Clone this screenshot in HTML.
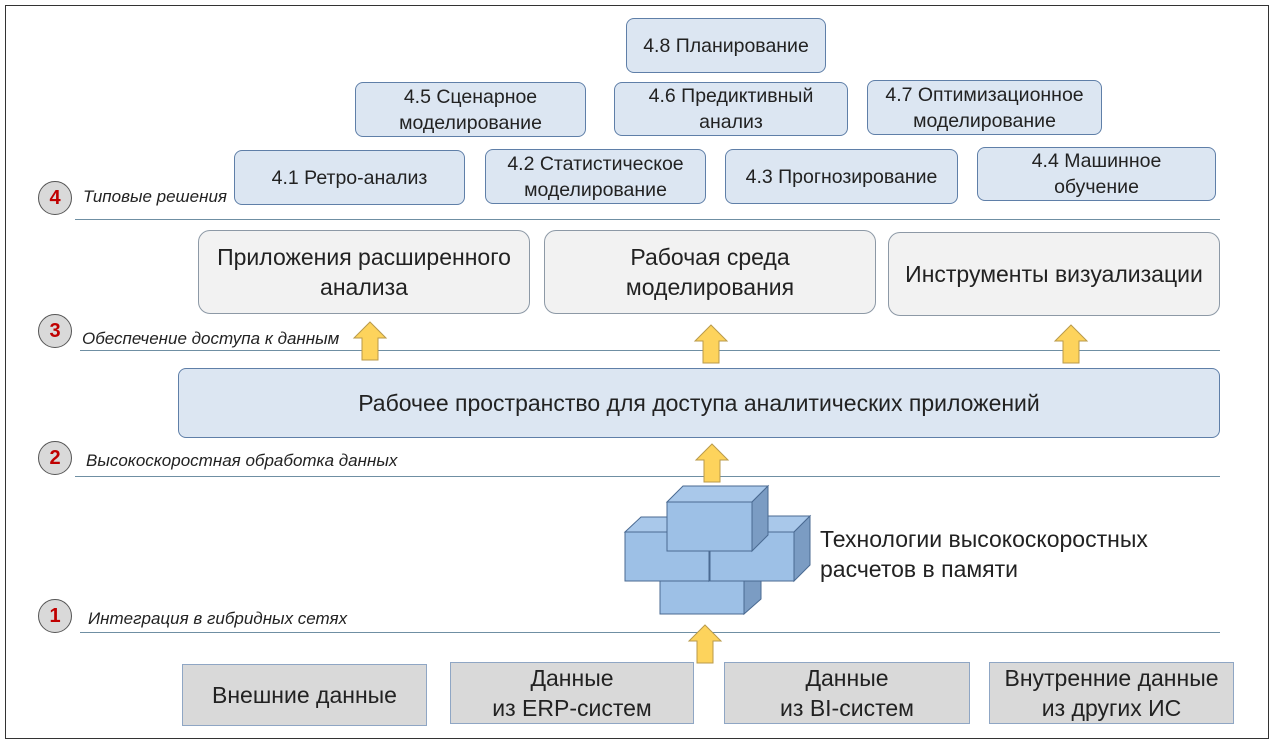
<!DOCTYPE html>
<html><head><meta charset="utf-8"><style>
body{margin:0;background:#fff;width:1274px;height:743px;overflow:hidden;font-family:"Liberation Sans",sans-serif}
.b{position:absolute;box-sizing:border-box;display:flex;align-items:center;justify-content:center;text-align:center;color:#222;white-space:nowrap}
.s{background:#dce6f2;border:1px solid #5f7fa8;border-radius:8px;font-size:19.5px;line-height:26px}
.g{background:#f2f2f2;border:1px solid #8d99a6;border-radius:12px;font-size:23px;line-height:30px}
.d{background:#d9d9d9;border:1px solid #8fa6c4;font-size:23px;line-height:30px}
.ln{position:absolute;height:1px;background:#6f8fa3}
.c{position:absolute;width:34px;height:34px;border-radius:50%;background:#d9d9d9;border:1.5px solid #555;box-sizing:border-box;color:#c00000;font-weight:bold;font-size:20px;display:flex;align-items:center;justify-content:center}
.l{position:absolute;font-style:italic;font-size:17px;color:#222;white-space:nowrap}
</style></head><body>
<div style="position:absolute;left:5px;top:5px;width:1262px;height:732px;border:1px solid #333"></div>
<div class="ln" style="left:75px;top:219px;width:1145px"></div>
<div class="ln" style="left:80px;top:350px;width:1140px"></div>
<div class="ln" style="left:75px;top:476px;width:1145px"></div>
<div class="ln" style="left:80px;top:632px;width:1140px"></div>

<div class="b s" style="left:626px;top:18px;width:200px;height:55px">4.8 Планирование</div>
<div class="b s" style="left:355px;top:82px;width:231px;height:55px">4.5 Сценарное<br>моделирование</div>
<div class="b s" style="left:614px;top:82px;width:234px;height:54px">4.6 Предиктивный<br>анализ</div>
<div class="b s" style="left:867px;top:80px;width:235px;height:55px">4.7 Оптимизационное<br>моделирование</div>
<div class="b s" style="left:234px;top:150px;width:231px;height:55px">4.1 Ретро-анализ</div>
<div class="b s" style="left:485px;top:149px;width:221px;height:55px">4.2 Статистическое<br>моделирование</div>
<div class="b s" style="left:725px;top:149px;width:233px;height:55px">4.3 Прогнозирование</div>
<div class="b s" style="left:977px;top:147px;width:239px;height:54px">4.4 Машинное<br>обучение</div>

<div class="b g" style="left:198px;top:230px;width:332px;height:84px">Приложения расширенного<br>анализа</div>
<div class="b g" style="left:544px;top:230px;width:332px;height:84px">Рабочая среда<br>моделирования</div>
<div class="b g" style="left:888px;top:232px;width:332px;height:84px">Инструменты визуализации</div>

<div class="b s" style="left:178px;top:368px;width:1042px;height:70px;font-size:23px;border-radius:8px">Рабочее пространство для доступа аналитических приложений</div>

<div class="b d" style="left:182px;top:664px;width:245px;height:62px">Внешние данные</div>
<div class="b d" style="left:450px;top:662px;width:244px;height:62px">Данные<br>из ERP-систем</div>
<div class="b d" style="left:724px;top:662px;width:246px;height:62px">Данные<br>из BI-систем</div>
<div class="b d" style="left:989px;top:662px;width:245px;height:62px">Внутренние данные<br>из других ИС</div>

<div class="c" style="left:38px;top:181px">4</div>
<div class="c" style="left:38px;top:314px">3</div>
<div class="c" style="left:38px;top:441px">2</div>
<div class="c" style="left:38px;top:599px">1</div>
<div class="l" style="left:83px;top:187px">Типовые решения</div>
<div class="l" style="left:82px;top:329px">Обеспечение доступа к данным</div>
<div class="l" style="left:86px;top:451px">Высокоскоростная обработка данных</div>
<div class="l" style="left:88px;top:609px">Интеграция в гибридных сетях</div>

<div style="position:absolute;left:820px;top:524px;font-size:23px;line-height:30px;color:#222;white-space:nowrap">Технологии высокоскоростных<br>расчетов в памяти</div>

<svg width="1274" height="743" style="position:absolute;left:0;top:0">
<defs><g id="ar"><path d="M0,0 L16,16 L8,16 L8,38 L-8,38 L-8,16 L-16,16 Z" fill="#fdd35c" stroke="#b99a4a" stroke-width="1"/></g></defs>
<use href="#ar" x="370" y="322"/>
<use href="#ar" x="711" y="325"/>
<use href="#ar" x="1071" y="325"/>
<use href="#ar" x="712" y="444"/>
<use href="#ar" x="705" y="625"/>
<g stroke="#4a6a92" stroke-width="1">
<path d="M660,581 L744,581 L744,614 L660,614 Z" fill="#9dc0e6"/>
<path d="M744,581 L761,566 L761,599 L744,614 Z" fill="#7b9cc3"/>
<path d="M625,532 L641,517 L725,517 L709,532 Z" fill="#a9c8ea"/>
<path d="M709,532 L725,517 L725,566 L709,581 Z" fill="#7b9cc3"/>
<path d="M625,532 L709,532 L709,581 L625,581 Z" fill="#9dc0e6"/>
<path d="M710,532 L726,516 L810,516 L794,532 Z" fill="#a9c8ea"/>
<path d="M794,532 L810,516 L810,565 L794,581 Z" fill="#7b9cc3"/>
<path d="M710,532 L794,532 L794,581 L710,581 Z" fill="#9dc0e6"/>
<path d="M667,502 L683,486 L768,486 L752,502 Z" fill="#a9c8ea"/>
<path d="M752,502 L768,486 L768,535 L752,551 Z" fill="#7b9cc3"/>
<path d="M667,502 L752,502 L752,551 L667,551 Z" fill="#9dc0e6"/>
</g>
</svg>
</body></html>
